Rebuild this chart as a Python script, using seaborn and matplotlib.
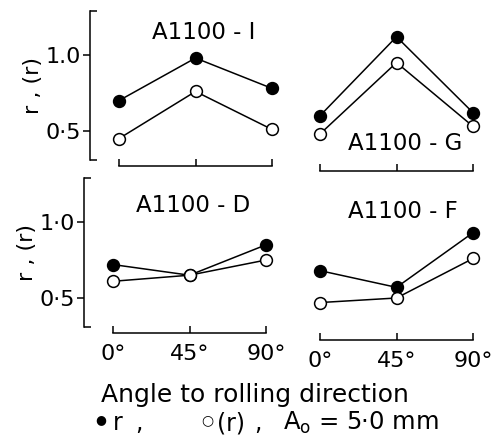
import matplotlib
matplotlib.use("Agg")
import matplotlib.pyplot as plt
import numpy as np
import pandas as pd
import seaborn as sns

# ---- data ----
angles = [0, 45, 90]
angle_labels = ["0°", "45°", "90°"]
panel_names = ["A1100 - I", "A1100 - G", "A1100 - D", "A1100 - F"]
r_I = [0.70, 0.98, 0.78]
rbar_I = [0.45, 0.76, 0.51]
r_G = [0.60, 1.12, 0.62]
rbar_G = [0.48, 0.95, 0.53]
r_D = [0.72, 0.65, 0.85]
rbar_D = [0.61, 0.65, 0.75]
r_F = [0.68, 0.57, 0.93]
rbar_F = [0.47, 0.50, 0.76]
ytick_vals = [0.5, 1.0]
ytick_labels_top = ["0·5", "1.0"]
ytick_labels_bot = ["0·5", "1·0"]

r_series = [r_I, r_G, r_D, r_F]
rbar_series = [rbar_I, rbar_G, rbar_D, rbar_F]

rows = []
for name, rv, rb in zip(panel_names, r_series, rbar_series):
    for a, v1, v2 in zip(angles, rv, rb):
        rows.append(dict(panel=name, angle=a, kind="r", value=v1))
        rows.append(dict(panel=name, angle=a, kind="rbar", value=v2))
df = pd.DataFrame(rows)

sns.set_style("ticks")
plt.rcParams["font.family"] = ["DejaVu Sans"]
for k in ["text.color", "axes.labelcolor", "xtick.color", "ytick.color",
          "axes.edgecolor"]:
    plt.rcParams[k] = "black"

W, H = 495, 437
fig = plt.figure(figsize=(W / 100, H / 100), dpi=100)

def px_rect(left, top, right, bottom):
    return [left / W, 1 - bottom / H, (right - left) / W, (bottom - top) / H]

rects = [
    px_rect(90, 9.4, 284, 161.4),
    px_rect(291, 9.4, 485, 161.4),
    px_rect(84, 176.4, 278, 328.4),
    px_rect(291, 176.4, 485, 328.4),
]
title_pos = [(50, 1.145), (50, 0.42), (47, 1.11), (49, 1.07)]
bottom_offset = [3, 7, 3, 8]

for i, (name, rect) in enumerate(zip(panel_names, rects)):
    ax = fig.add_axes(rect)
    sub = df[df.panel == name]
    for kind, face in [("r", "black"), ("rbar", "white")]:
        d = sub[sub.kind == kind]
        sns.lineplot(data=d, x="angle", y="value", ax=ax, color="black",
                     linewidth=1.1, marker="o", markersize=8.5,
                     markerfacecolor=face, markeredgecolor="black",
                     markeredgewidth=1.1, zorder=3 if kind == "r" else 4)
    ax.set_xlim(-17, 97)
    ax.set_ylim(0.30, 1.30)
    ax.set_xlabel("")
    ax.set_ylabel("")
    ax.spines["top"].set_visible(False)
    ax.spines["right"].set_visible(False)
    ax.spines["bottom"].set_bounds(0, 90)
    ax.spines["bottom"].set_position(("outward", bottom_offset[i]))
    ax.spines["bottom"].set_linewidth(1.1)
    ax.set_xticks(angles)
    ax.tick_params(axis="x", direction="in", length=5, width=1.1, pad=8,
                   labelsize=16)
    if i >= 2:
        ax.set_xticklabels(angle_labels)
    else:
        ax.set_xticklabels([])
    if i % 2 == 0:
        ax.spines["left"].set_bounds(0.31, 1.29)
        ax.spines["left"].set_linewidth(1.1)
        ax.set_yticks(ytick_vals)
        ax.set_yticklabels(ytick_labels_top if i == 0 else ytick_labels_bot)
        ax.set_yticks([0.31, 1.29], minor=True)
        ax.tick_params(axis="y", which="major", direction="out", length=5,
                       width=1.1, pad=1.5, labelsize=16)
        ax.tick_params(axis="y", which="minor", direction="in", length=5,
                       width=1.1)
        ax.set_ylabel("r , (r)", fontsize=16, labelpad=2)
    else:
        ax.spines["left"].set_visible(False)
        ax.set_yticks([])
    ax.text(title_pos[i][0], title_pos[i][1], name, ha="center", va="center",
            fontsize=16.5)
    ax.patch.set_alpha(0)

fig.text(255 / W, 1 - 395 / H, "Angle to rolling direction", ha="center",
         va="center", fontsize=18)
y_leg = 1 - 423 / H
y_sym = 1 - 420 / H
fig.text(101 / W, y_sym, "●", ha="center", va="center", fontsize=9)
fig.text(113 / W, y_leg, "r", ha="left", va="center", fontsize=17)
fig.text(135 / W, y_leg, ",", ha="left", va="center", fontsize=17)
fig.text(207 / W, y_sym, "○", ha="center", va="center", fontsize=10)
fig.text(217 / W, y_leg, "(r)", ha="left", va="center", fontsize=17)
fig.text(254 / W, y_leg, ",", ha="left", va="center", fontsize=17)
fig.text(283 / W, y_leg, "A$_{\\mathrm{o}}$ = 5·0 mm", ha="left",
         va="center", fontsize=17.5)

fig.savefig("out.png", dpi=100, facecolor="white")
